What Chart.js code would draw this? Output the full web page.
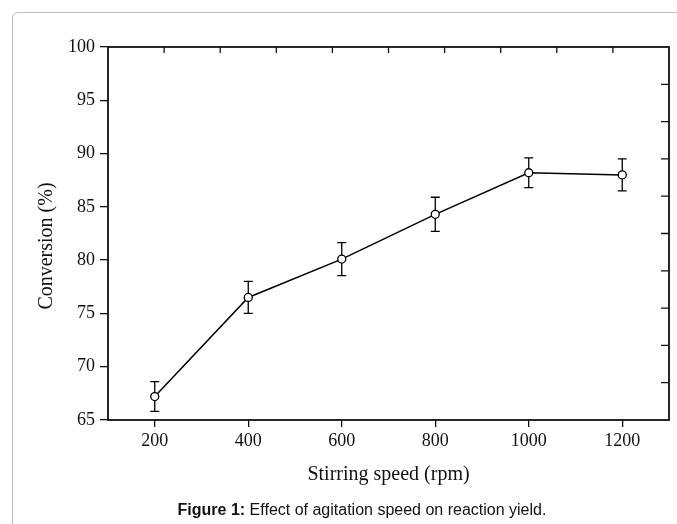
<!DOCTYPE html>
<html lang="en">
<head>
<meta charset="UTF-8">
<title>Conversion x Stirring speed</title>
<script src="https://cdn.jsdelivr.net/npm/chart.js@4.4.0/dist/chart.umd.min.js"></script>
<style>
    body { margin: 0; background: #fff; width: 677px; height: 524px; overflow: hidden; position: relative; }
    .moldura { position: absolute; left: 12px; top: 12px; width: 720px; height: 600px; border: 1px solid #bdbdbd; border-radius: 6px; }
    .area-grafico { position: absolute; left: 0; top: 0; width: 677px; height: 524px; }
    .legenda { position: absolute; left: 12px; width: 700px; top: 501px; text-align: center;
               font-family: "Liberation Sans", Arial, sans-serif; font-size: 16px; color: #111; }
</style>
</head>
<body>
<div class="moldura"></div>
<div class="area-grafico"><canvas id="grafico"></canvas></div>
<div class="legenda"><b>Figure 1:</b> Effect of agitation speed on reaction yield.</div>

<script>
// dados
const velocidades = [200, 400, 600, 800, 1000, 1200];
const conversao = [67.2, 76.5, 80.1, 84.3, 88.2, 88.0];
const erros = [1.4, 1.5, 1.55, 1.6, 1.4, 1.5];

const ticksX = [200, 400, 600, 800, 1000, 1200];
const ticksY = [65, 70, 75, 80, 85, 90, 95, 100];
// marcas internas do eixo de cima e da direita
const ticksTopo = [220, 340, 460, 580, 700, 820, 940, 1060, 1180];
const ticksDireita = [68.5, 72, 75.5, 79, 82.5, 86, 89.5, 93, 96.5];

const tituloX = 'Stirring speed (rpm)';
const tituloY = 'Conversion (%)';
const fonteSerif = '"Liberation Serif", "Times New Roman", serif';

// barras de erro, atras dos pontos
const barrasErro = {
    id: 'barrasErro',
    beforeDatasetsDraw(chart) {
        const ctx = chart.ctx;
        const sx = chart.scales.x, sy = chart.scales.y;
        ctx.save();
        ctx.strokeStyle = '#000';
        ctx.lineWidth = 1.3;
        for (let i = 0; i < velocidades.length; i++) {
            const px = sx.getPixelForValue(velocidades[i]);
            const topo = sy.getPixelForValue(conversao[i] + erros[i]);
            const base = sy.getPixelForValue(conversao[i] - erros[i]);
            ctx.beginPath();
            ctx.moveTo(px, topo); ctx.lineTo(px, base);
            ctx.moveTo(px - 4.5, topo); ctx.lineTo(px + 4.5, topo);
            ctx.moveTo(px - 4.5, base); ctx.lineTo(px + 4.5, base);
            ctx.stroke();
        }
        ctx.restore();
    }
};

// moldura, marcas internas e titulos dos eixos
const moldura = {
    id: 'moldura',
    afterDraw(chart) {
        const ctx = chart.ctx;
        const a = chart.chartArea;
        const sx = chart.scales.x, sy = chart.scales.y;
        ctx.save();
        ctx.strokeStyle = '#111';
        ctx.lineWidth = 1.8;
        ctx.strokeRect(a.left, a.top, a.right - a.left, a.bottom - a.top);

        ctx.lineWidth = 1.3;
        ctx.beginPath();
        ticksTopo.forEach(v => {
            const px = sx.getPixelForValue(v);
            ctx.moveTo(px, a.top); ctx.lineTo(px, a.top + 6);
        });
        ticksDireita.forEach(v => {
            const py = sy.getPixelForValue(v);
            ctx.moveTo(a.right, py); ctx.lineTo(a.right - 8, py);
        });
        ctx.stroke();

        ctx.fillStyle = '#111';
        ctx.font = '20px ' + fonteSerif;
        ctx.textAlign = 'center';
        ctx.textBaseline = 'alphabetic';
        ctx.fillText(tituloX, (a.left + a.right) / 2, 480);

        ctx.translate(52, 246);
        ctx.rotate(-Math.PI / 2);
        ctx.fillText(tituloY, 0, 0);
        ctx.restore();
    }
};

const config = {
    type: 'line',
    data: {
        datasets: [{
            label: 'Conversion',
            data: velocidades.map((v, i) => ({ x: v, y: conversao[i] })),
            borderColor: '#000',
            borderWidth: 1.5,
            backgroundColor: '#fff',
            pointBackgroundColor: '#fff',
            pointBorderColor: '#000',
            pointBorderWidth: 1.3,
            pointRadius: 4,
            tension: 0
        }]
    },
    options: {
        responsive: false,
        animation: false,
        layout: { padding: { top: 47, right: 8, left: 0, bottom: 0 } },
        plugins: { legend: { display: false }, tooltip: { enabled: false } },
        scales: {
            x: {
                type: 'linear',
                min: 100,
                max: 1300,
                afterBuildTicks: scale => { scale.ticks = ticksX.map(v => ({ value: v })); },
                afterFit: scale => { scale.height = 104; },
                border: { display: false },
                grid: { drawOnChartArea: false, tickLength: 7, color: '#111', lineWidth: 1.3 },
                ticks: { color: '#111', padding: 3, font: { family: fonteSerif, size: 18 },
                         callback: v => String(v) }
            },
            y: {
                min: 65,
                max: 100,
                afterBuildTicks: scale => { scale.ticks = ticksY.map(v => ({ value: v })); },
                afterFit: scale => { scale.width = 108; },
                border: { display: false },
                grid: { drawOnChartArea: false, tickLength: 8, color: '#111', lineWidth: 1.3 },
                ticks: { color: '#111', padding: 5, font: { family: fonteSerif, size: 18 },
                         callback: v => String(v) }
            }
        }
    },
    plugins: [barrasErro, moldura]
};

const canvas = document.getElementById('grafico');
canvas.width = 677;
canvas.height = 524;
new Chart(canvas, config);
</script>
</body>
</html>
